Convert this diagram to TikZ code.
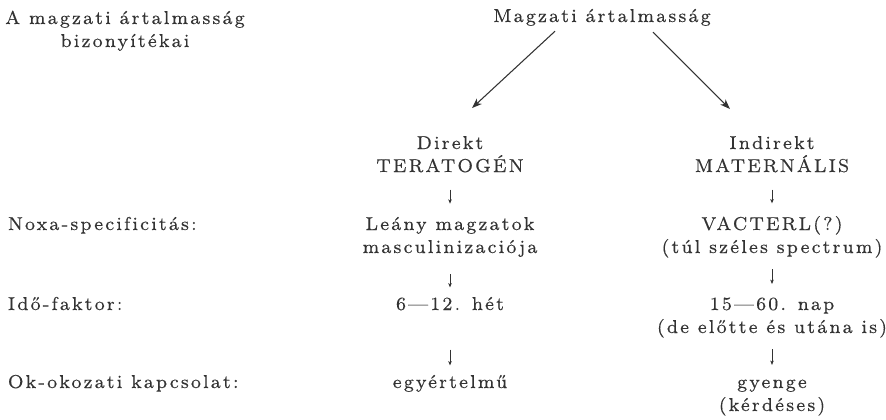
\documentclass[tikz,border=0pt]{standalone}
\usepackage{fontspec}
\setmainfont{lmroman8-regular}[Extension=.otf,LetterSpace=12,Ligatures=CommonOff,FakeBold=0.35]
\usetikzlibrary{arrows.meta,calc}
\definecolor{ink}{gray}{0.2}
\begin{document}
\begin{tikzpicture}[x=0.75pt,y=-0.75pt,
  txt/.style={inner sep=0pt,outer sep=0pt,text=ink,align=center,
    font=\fontsize{14}{17.25}\selectfont},
  label/.style={txt,anchor=base west},
  entry/.style={txt,anchor=base},
  barrow/.style={draw=ink,line width=0.8pt,-{Stealth[length=7.5pt,width=5.5pt,inset=2.2pt]}},
  sarrow/.style={draw=ink,line width=0.5pt,-{Stealth[length=3.2pt,width=2.6pt,inset=0.8pt]}}]
\useasboundingbox (0,0) rectangle (886,419);

% headings (a multi-line node sits on the baseline of its last line)
\node[entry] (head) at (125,47) {A magzati ártalmasság\\bizonyítékai};
\node[entry] (top) at (602,22) {Magzati ártalmasság};

% row labels
\node[label] (noxa) at (8,230) {Noxa-specificitás:};
\node[label] (ido)  at (8,310) {Idő-faktor:};
\node[label] (ok)   at (8,388) {Ok-okozati kapcsolat:};

% left column: direct teratogenic effect
\node[entry] (direkt) at (450,172) {Direkt\\TERATOGÉN};
\node[entry] (leany)  at (450,253) {Leány magzatok\\masculinizaciója};
\node[entry] (het)    at (450,310) {6—12. hét};
\node[entry] (egy)    at (450,388) {egyértelmű};

% right column: indirect maternal effect
\node[entry] (indirekt) at (772,172) {Indirekt\\MATERNÁLIS};
\node[entry] (vacterl)  at (772,253) {VACTERL(?)\\(túl széles spectrum)};
\node[entry] (nap)      at (772,333) {15—60. nap\\(de előtte és utána is)};
\node[entry] (gyenge)   at (772,411) {gyenge\\(kérdéses)};

% branching arrows
\draw[barrow] ($(top.south)+(-47,5.4)$) -- ($(direkt.north)+(22,-28)$);
\draw[barrow] ($(top.south)+(51,6.4)$) -- ($(indirekt.north)+(-42,-27)$);

% column arrows
\draw[sarrow,shorten <=13pt,shorten >=10pt] (direkt) -- (leany);
\draw[sarrow,shorten <=13.2pt,shorten >=7.2pt] (leany) -- (het);
\draw[sarrow,shorten <=29.5pt,shorten >=7.2pt] (het) -- (egy);
\draw[sarrow,shorten <=13pt,shorten >=9.5pt] (indirekt) -- (vacterl);
\draw[sarrow,shorten <=8.8pt,shorten >=10.2pt] (vacterl) -- (nap);
\draw[sarrow,shorten <=8.8pt,shorten >=11pt] (nap) -- (gyenge);
\end{tikzpicture}
\end{document}
